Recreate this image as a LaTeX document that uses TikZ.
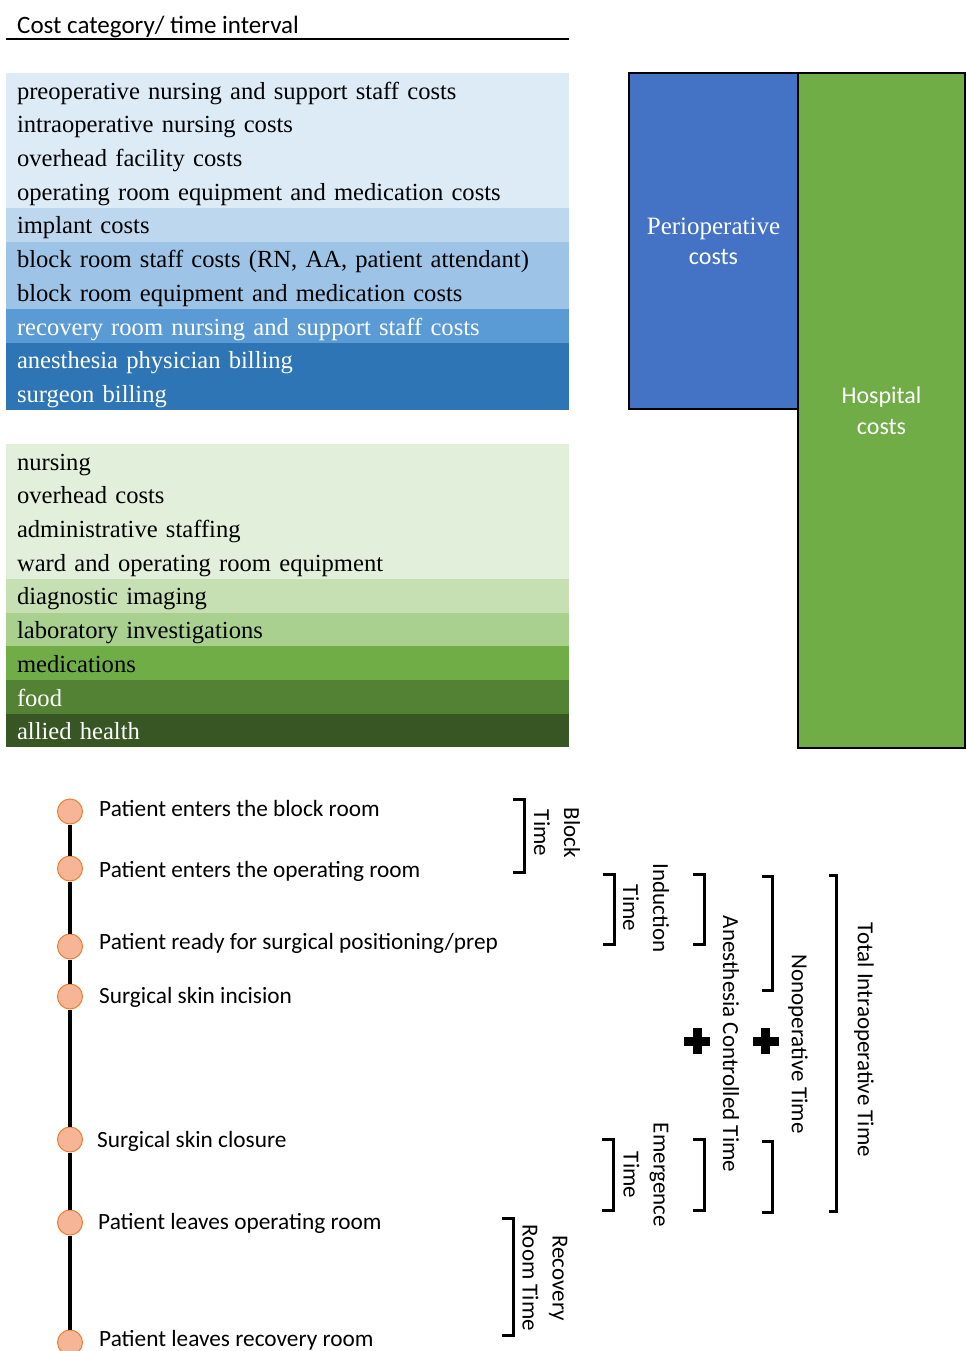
\documentclass[tikz,border=0pt]{standalone}
\usepackage{fontspec}
\setmainfont{Liberation Serif}
\setsansfont{Carlito}
\usepackage{tikz}
\usetikzlibrary{positioning}

\definecolor{blueA}{HTML}{DDEBF7}
\definecolor{blueB}{HTML}{BDD7EE}
\definecolor{blueC}{HTML}{9DC3E6}
\definecolor{blueD}{HTML}{5B9BD5}
\definecolor{blueE}{HTML}{2E75B6}
\definecolor{greenA}{HTML}{E2EFDA}
\definecolor{greenB}{HTML}{C6E0B4}
\definecolor{greenC}{HTML}{A9D08E}
\definecolor{greenD}{HTML}{70AD47}
\definecolor{greenE}{HTML}{548235}
\definecolor{greenF}{HTML}{375623}
\definecolor{periblue}{HTML}{4472C4}
\definecolor{dotfill}{HTML}{F5B596}
\definecolor{dotline}{HTML}{ED7D31}

\begin{document}
\begin{tikzpicture}[x=1pt,y=-1pt,
    row/.style={anchor=north west,inner xsep=11pt,inner ysep=0pt,outer sep=0pt,
      text width=541pt,align=left,minimum height=33.7pt,text height=22pt,text depth=3.5pt,
      font=\fontsize{24.6}{30}\selectfont},
    bigbox/.style={anchor=north west,draw=black,line width=1.5pt,outer sep=0pt,
      text=white,align=center},
    dot/.style={circle,minimum size=25pt,inner sep=0pt,fill=dotfill,draw=dotline,line width=1pt},
    event/.style={anchor=west,inner sep=0pt,text height=15pt,text depth=5pt,
      font=\sffamily\fontsize{23.3}{28}\selectfont},
    span/.style={rotate=-90,align=center,inner sep=0pt,
      font=\sffamily\fontsize{23}{30}\selectfont},
    bracket/.style={line width=3pt}]
      \useasboundingbox (0,0) rectangle (966,1351);

      % heading
      \node[anchor=base west,inner sep=0pt,font=\sffamily\fontsize{25}{30}\selectfont]
        (head) at (17,33.5) {Cost category/ time interval};
      \draw[line width=2pt] (6,39) -- (569,39);

      % perioperative cost rows
      \node[row,fill=blueA] (b1) at (6,73) {preoperative nursing and support staff costs};
      \node[row,fill=blueA,below=0pt of b1] (b2) {intraoperative nursing costs};
      \node[row,fill=blueA,below=0pt of b2] (b3) {overhead facility costs};
      \node[row,fill=blueA,below=0pt of b3] (b4) {operating room equipment and medication costs};
      \node[row,fill=blueB,below=0pt of b4] (b5) {implant costs};
      \node[row,fill=blueC,below=0pt of b5] (b6) {block room staff costs (RN, AA, patient attendant)};
      \node[row,fill=blueC,below=0pt of b6] (b7) {block room equipment and medication costs};
      \node[row,fill=blueD,text=white,below=0pt of b7] (b8) {recovery room nursing and support staff costs};
      \node[row,fill=blueE,text=white,below=0pt of b8] (b9) {anesthesia physician billing};
      \node[row,fill=blueE,text=white,below=0pt of b9] (b10) {surgeon billing};

      % hospital cost rows
      \node[row,fill=greenA] (g1) at (6,444) {nursing};
      \node[row,fill=greenA,below=0pt of g1] (g2) {overhead costs};
      \node[row,fill=greenA,below=0pt of g2] (g3) {administrative staffing};
      \node[row,fill=greenA,below=0pt of g3] (g4) {ward and operating room equipment};
      \node[row,fill=greenB,below=0pt of g4] (g5) {diagnostic imaging};
      \node[row,fill=greenC,below=0pt of g5] (g6) {laboratory investigations};
      \node[row,fill=greenD,below=0pt of g6] (g7) {medications};
      \node[row,fill=greenE,text=white,below=0pt of g7] (g8) {food};
      \node[row,fill=greenF,text=white,below=0pt of g8] (g9) {allied health};

      % totals
      \node[bigbox,fill=periblue,minimum width=169pt,minimum height=336pt,
        font=\fontsize{25}{30}\selectfont] (peri) at (629,73)
        {Perioperative\\{\sffamily\fontsize{24}{30}\selectfont costs}};
      \node[bigbox,fill=greenD,minimum width=167pt,minimum height=675pt,
        font=\sffamily\fontsize{24}{31}\selectfont] (hosp) at (peri.north east)
        {Hospital\\costs};

      % timeline
      \node[dot] (c1) at (70,811.5) {};
      \node[dot] (c2) at (70,868.5) {};
      \node[dot] (c3) at (70,946.5) {};
      \node[dot] (c4) at (70,996.5) {};
      \node[dot] (c5) at (70,1139.5) {};
      \node[dot] (c6) at (70,1222.5) {};
      \node[dot] (c7) at (70,1342.5) {};
      \foreach \i/\j in {1/2,2/3,3/4,4/5,5/6,6/7}
        \draw[line width=4pt] (c\i) -- (c\j);

      \node[event,right=16pt of c1] (e1) {Patient enters the block room};
      \node[event,right=16pt of c2,yshift=-4pt] (e2) {Patient enters the operating room};
      \node[event,right=16pt of c3,yshift=2pt] (e3) {Patient ready for surgical positioning/prep};
      \node[event,right=16pt of c4,yshift=-2pt] (e4) {Surgical skin incision};
      \node[event,right=14pt of c5,yshift=-3pt] (e5) {Surgical skin closure};
      \node[event,right=15pt of c6,yshift=-2pt] (e6) {Patient leaves operating room};
      \node[event,right=16pt of c7,yshift=1pt] (e7) {Patient leaves recovery room};

      % intervals
      \draw[bracket] (513,799) -- (524,799) -- (524,872) -- (513,872);
      \draw[bracket] (603,874) -- (614,874) -- (614,944) -- (603,944);
      \draw[bracket] (693,874) -- (704,874) -- (704,944) -- (693,944);
      \draw[bracket] (762,876) -- (772,876) -- (772,990) -- (762,990);
      \draw[bracket] (829,875) -- (836,875) -- (836,1211) -- (829,1211);
      \draw[bracket] (602,1139) -- (613,1139) -- (613,1210) -- (602,1210);
      \draw[bracket] (693,1139) -- (704,1139) -- (704,1210) -- (693,1210);
      \draw[bracket] (762,1141) -- (772,1141) -- (772,1212) -- (762,1212);
      \draw[bracket] (502,1218) -- (513,1218) -- (513,1335) -- (502,1335);

      \node[span] (block) at (557,833) {Block\\Time};
      \node[span] (induct) at (646,908) {Induction\\Time};
      \node[span] (anest) at (731,1044) {Anesthesia Controlled Time};
      \node[span] (nonop) at (798,1044) {Nonoperative Time};
      \node[span] (total) at (864,1040) {Total Intraoperative Time};
      \node[span] (emerg) at (646,1175) {Emergence\\Time};
      \node[span] (recov) at (545,1278) {Recovery\\Room Time};

      % plus signs
      \draw[line width=9pt] (684,1041) -- (710,1041) (697,1028) -- (697,1054);
      \draw[line width=9pt] (752.5,1041) -- (778.5,1041) (765.5,1028) -- (765.5,1054);
\end{tikzpicture}
\end{document}
